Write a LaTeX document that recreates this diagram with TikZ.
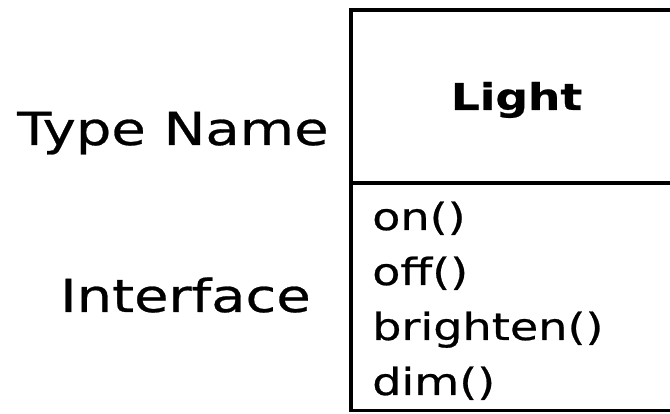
\documentclass[tikz,border=0pt]{standalone}
\usepackage{fontspec}
\setmainfont{DejaVu Sans}[FakeStretch=1.23, FakeBold=0.6]
\begin{document}
\begin{tikzpicture}[x=1pt,y=1pt,
  lbl/.style={anchor=base west, inner sep=0pt, font=\fontsize{45.5}{54}\selectfont},
  meth/.style={anchor=base west, inner sep=0pt, font=\fontsize{37.5}{44}\selectfont},
  title/.style={anchor=base, inner sep=0pt, font=\fontsize{37}{46}\selectfont\bfseries},
  frame/.style={line width=3.2pt, draw=black}]
\useasboundingbox (0,0) rectangle (670,414);
% box (top at y=9.5, divider 183, bottom 410.5 from top)
\draw[frame] (690,404) -- (351,404) -- (351,3.5) -- (690,3.5);
\draw[frame] (351,231) -- (690,231);
\node[title] (light) at (516.5,304) {Light};
\node[lbl] (typename) at (17,269) {Type Name};
\node[lbl] (interface) at (60,102) {Interface};
\node[meth] (on) at (372,184) {on()};
\node[meth] (off) at (372,129) {off()};
\node[meth] (brighten) at (372,74) {brighten()};
\node[meth] (dim) at (372,19) {dim()};
\end{tikzpicture}
\end{document}
